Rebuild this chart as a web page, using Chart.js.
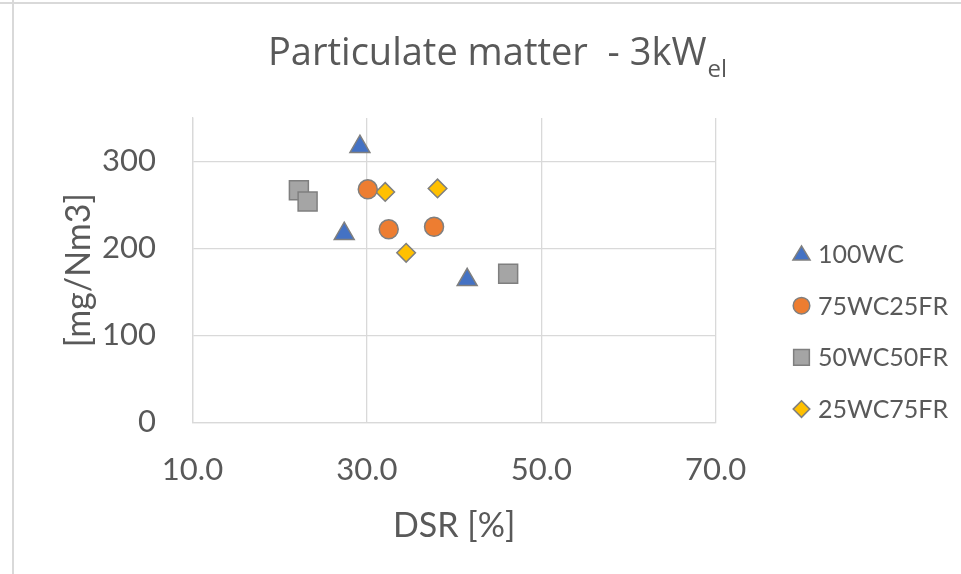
<!DOCTYPE html>
<html>
<head>
<meta charset="utf-8">
<script src="https://cdn.jsdelivr.net/npm/chart.js@4/dist/chart.umd.min.js"></script>
<style>
  html, body { margin: 0; padding: 0; background: #ffffff; }
  #wrap { width: 961px; height: 574px; position: relative; }
</style>
</head>
<body>
<div id="wrap"><canvas id="c" width="961" height="574"></canvas></div>
<script>
// ---- data ----
const seriesNames = ["100WC", "75WC25FR", "50WC50FR", "25WC75FR"];
const dsr100WC = [29.2, 27.4, 41.5];
const pm100WC  = [317, 217, 164];
const dsr75WC25FR = [30.1, 32.5, 37.7];
const pm75WC25FR  = [268, 222, 225];
const dsr50WC50FR = [22.2, 23.2, 46.2];
const pm50WC50FR  = [267, 254, 171];
const dsr25WC75FR = [32.1, 38.1, 34.5];
const pm25WC75FR  = [265, 269, 195];
const xTicks = [10, 30, 50, 70];
const yTicks = [0, 100, 200, 300];
const titleMain = "Particulate matter  - 3kW";
const titleSub = "el";
const xTitle = "DSR [%]";
const yTitle = "[mg/Nm3]";

const FONT = "Lato";
const TFONT = "'Open Sans'";
const TXT = "#595959";
const GRID = "#d9d9d9";
const EDGE = "#7f7f7f";

function pts(xs, ys) { return xs.map((x, i) => ({ x: x, y: ys[i] })); }

const styles = [
  { pointStyle: 'triangle', color: '#4472C4', r: 11.5, lr: 9.5 },
  { pointStyle: 'circle',   color: '#ED7D31', r: 9.5,  lr: 8.3 },
  { pointStyle: 'rect',     color: '#A5A5A5', r: 13.4, lr: 11.1 },
  { pointStyle: 'rectRot',  color: '#FFC000', r: 9.3,  lr: 8.3 }
];
const dataSets = [
  pts(dsr100WC, pm100WC),
  pts(dsr75WC25FR, pm75WC25FR),
  pts(dsr50WC50FR, pm50WC50FR),
  pts(dsr25WC75FR, pm25WC75FR)
];

const datasets = seriesNames.map((n, i) => ({
  label: n,
  data: dataSets[i],
  pointStyle: styles[i].pointStyle,
  pointRadius: styles[i].r,
  pointHoverRadius: styles[i].r,
  backgroundColor: styles[i].color,
  borderColor: EDGE,
  pointBorderWidth: 1.5,
  showLine: false
}));

function drawShape(ctx, style, r, x, y) {
  ctx.beginPath();
  if (style === 'circle') {
    ctx.arc(x, y, r, 0, Math.PI * 2);
  } else if (style === 'triangle') {
    const h = r * 0.85;
    ctx.moveTo(x, y - h);
    ctx.lineTo(x + r * 0.9, y + h * 0.75);
    ctx.lineTo(x - r * 0.9, y + h * 0.75);
    ctx.closePath();
  } else if (style === 'rect') {
    const s = r * Math.SQRT1_2;
    ctx.rect(x - s, y - s, 2 * s, 2 * s);
  } else if (style === 'rectRot') {
    ctx.moveTo(x, y - r);
    ctx.lineTo(x + r, y);
    ctx.lineTo(x, y + r);
    ctx.lineTo(x - r, y);
    ctx.closePath();
  }
  ctx.fill();
  ctx.stroke();
}

const decor = {
  id: 'decor',
  beforeDraw(chart) {
    const ctx = chart.ctx;
    ctx.save();
    ctx.fillStyle = '#ffffff';
    ctx.fillRect(0, 0, chart.width, chart.height);
    ctx.strokeStyle = GRID;
    ctx.lineWidth = 2;
    ctx.beginPath();
    ctx.moveTo(0, 3); ctx.lineTo(chart.width, 3);
    ctx.moveTo(13, 0); ctx.lineTo(13, chart.height);
    ctx.stroke();
    ctx.restore();
  },
  afterDraw(chart) {
    const ctx = chart.ctx;
    ctx.save();
    // title with subscript
    ctx.fillStyle = TXT;
    ctx.textBaseline = 'alphabetic';
    ctx.textAlign = 'left';
    const mainFont = "38px " + TFONT;
    const subFont = "24px " + TFONT;
    ctx.font = mainFont;
    const wMain = ctx.measureText(titleMain).width;
    ctx.font = subFont;
    const wSub = ctx.measureText(titleSub).width;
    const cx = 497;
    const x0 = cx - (wMain + wSub) / 2;
    ctx.font = mainFont;
    ctx.fillText(titleMain, x0, 65);
    ctx.font = subFont;
    ctx.fillText(titleSub, x0 + wMain + 1, 77);

    // legend
    const lx = 801.5, ly0 = 254, dy = 51.7;
    chart.data.datasets.forEach((ds, i) => {
      const y = ly0 + i * dy;
      ctx.fillStyle = styles[i].color;
      ctx.strokeStyle = EDGE;
      ctx.lineWidth = 1.5;
      drawShape(ctx, styles[i].pointStyle, styles[i].lr, lx, y);
      ctx.fillStyle = TXT;
      ctx.font = "25px " + FONT;
      ctx.textBaseline = 'middle';
      ctx.textAlign = 'left';
      ctx.fillText(ds.label, 818, y + 1);
    });
    ctx.restore();
  }
};

new Chart(document.getElementById('c'), {
  type: 'scatter',
  data: { datasets: datasets },
  plugins: [decor],
  options: {
    responsive: false,
    animation: false,
    devicePixelRatio: 1,
    layout: { padding: { top: 118, right: 245.3, left: 0, bottom: 0 } },
    plugins: {
      legend: { display: false },
      title: { display: false },
      tooltip: { enabled: false }
    },
    scales: {
      x: {
        type: 'linear',
        min: 10, max: 70,
        afterBuildTicks: s => { s.ticks = xTicks.map(v => ({ value: v })); },
        afterFit: s => { s.height = 151.6; },
        grid: { color: GRID, lineWidth: 1.3, drawTicks: false },
        border: { color: GRID, width: 1.3 },
        ticks: {
          color: TXT, padding: 29,
          font: { family: FONT, size: 31 },
          callback: v => Number(v).toFixed(1)
        },
        title: {
          display: true, text: xTitle, color: TXT,
          font: { family: FONT, size: 34 },
          padding: { top: 0, bottom: 28 }
        }
      },
      y: {
        type: 'linear',
        min: 0, max: 350,
        afterBuildTicks: s => { s.ticks = yTicks.map(v => ({ value: v })); },
        afterFit: s => { s.width = 192.5; },
        grid: { color: GRID, lineWidth: 1.3, drawTicks: false },
        border: { color: GRID, width: 1.3 },
        ticks: {
          color: TXT, padding: 36.5,
          font: { family: FONT, size: 31 },
          callback: v => String(v)
        },
        title: {
          display: true, text: yTitle, color: TXT,
          font: { family: FONT, size: 34 },
          padding: { top: 58.6, bottom: 0 }
        }
      }
    }
  }
});
</script>
</body>
</html>
